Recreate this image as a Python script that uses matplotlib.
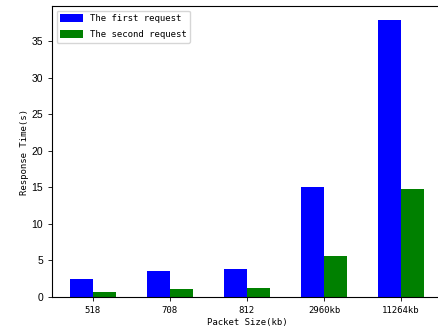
import matplotlib
matplotlib.use("Agg")
import matplotlib.pyplot as plt
import numpy as np

# packet sizes and measured response times (seconds)
sizes = ["518", "708", "812", "2960kb", "11264kb"]
first_request = [2.42, 3.5, 3.78, 15.1, 37.9]
second_request = [0.68, 1.05, 1.19, 5.56, 14.77]

plt.rcParams['font.family'] = ['DejaVu Sans Mono']
narrow = ['Liberation Sans Narrow', 'Liberation Sans', 'DejaVu Sans']

fig = plt.figure(figsize=(4.38, 3.30), dpi=100)
ax = fig.add_axes([0.1187, 0.1, 0.890, 0.8818])

x = np.arange(len(sizes))
w = 0.3
ax.bar(x - w / 2, first_request, w, color='b', label='The first request')
ax.bar(x + w / 2, second_request, w, color='g', label='The second request')

ax.set_xticks(x)
ax.set_xticklabels(sizes)
ax.tick_params(labelsize=6.5, length=3, width=0.6)
for lab in ax.get_yticklabels():
    lab.set_family(narrow)
    lab.set_fontsize(7.5)
ax.set_xlabel("Packet Size(kb)", fontsize=6.5, labelpad=2)
ax.set_ylabel("Response Time(s)", fontsize=6.5, labelpad=2)
for s in ax.spines.values():
    s.set_linewidth(0.8)
ax.legend(loc='upper left', fontsize=6.5, handlelength=2.5, handleheight=0.9,
          labelspacing=0.8, borderaxespad=0.5)

fig.savefig("out.png", dpi=100)
